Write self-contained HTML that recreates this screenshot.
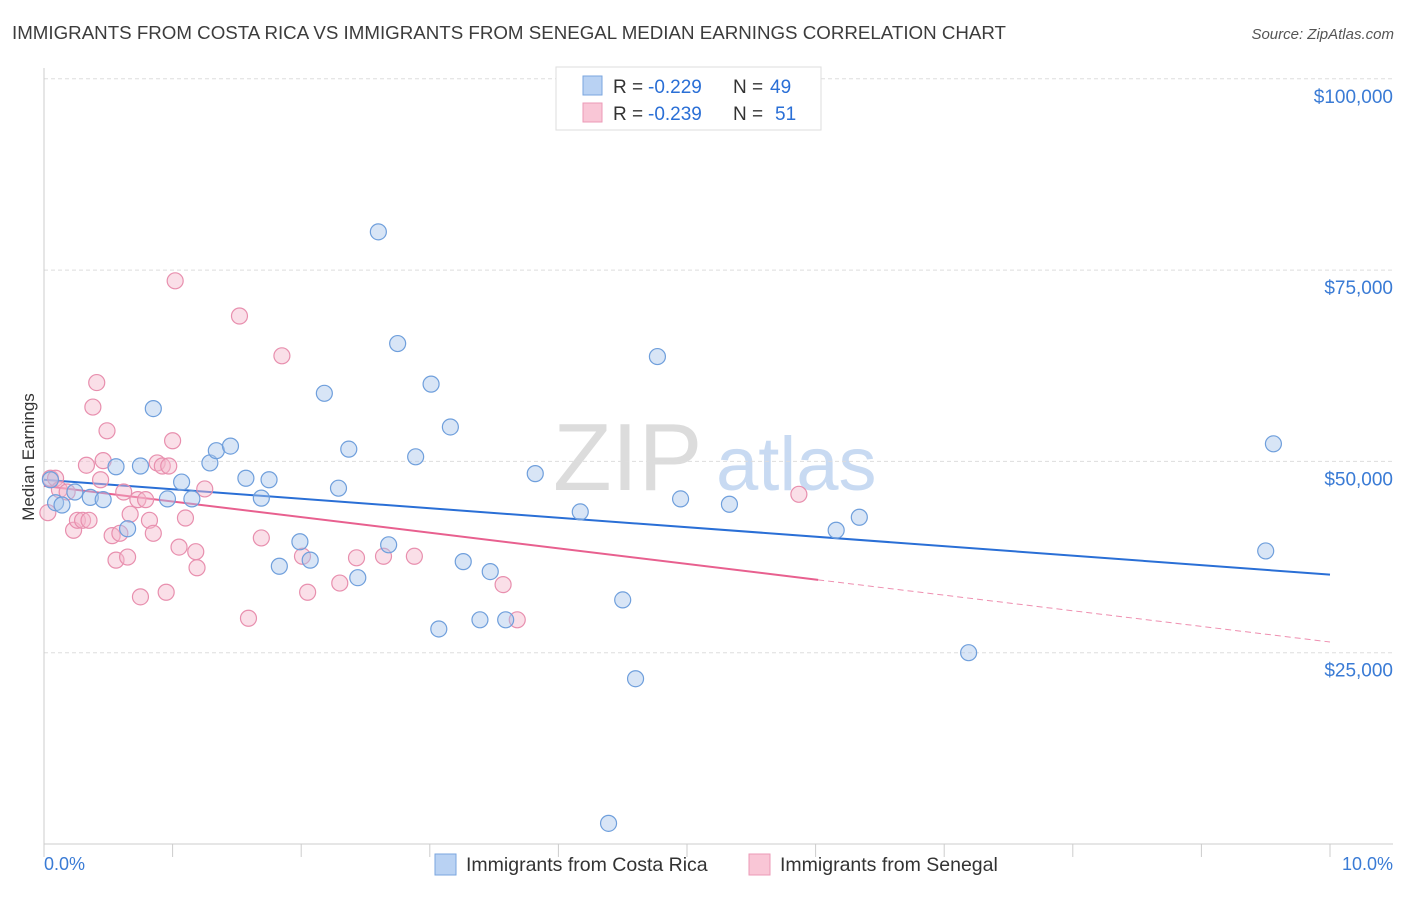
<!DOCTYPE html>
<html><head><meta charset="utf-8"><style>
body{margin:0;background:#fff;font-family:"Liberation Sans",sans-serif}
svg text{font-family:"Liberation Sans",sans-serif}
</style></head><body>
<svg id="chart" width="1406" height="892" xmlns="http://www.w3.org/2000/svg">
<text x="12" y="39" font-size="18.6" fill="#3c3c3c" textLength="994" lengthAdjust="spacingAndGlyphs">IMMIGRANTS FROM COSTA RICA VS IMMIGRANTS FROM SENEGAL MEDIAN EARNINGS CORRELATION CHART</text>
<text x="1394" y="39" font-size="15" fill="#555" text-anchor="end" font-style="italic">Source: ZipAtlas.com</text>
<text x="553" y="490" font-size="96" fill="#dcdcdc" font-family="Liberation Serif">ZIP</text>
<text x="716" y="490" font-size="76" fill="#c8daf2">atlas</text>
<text transform="translate(34,457) rotate(-90)" font-size="17" fill="#333" text-anchor="middle">Median Earnings</text>
<g id="grid"></g><g id="axes"></g><g id="lines"></g><g id="pts"></g>
<g>
<rect x="556" y="67" width="265" height="63" fill="#fff" stroke="#ddd"/>
<rect x="583" y="76" width="19" height="19" fill="#b9d2f3" stroke="#7aa6df"/>
<rect x="583" y="103" width="19" height="19" fill="#f9c6d6" stroke="#ec9ab7"/>
<text x="613" y="93" font-size="19" fill="#333">R =</text>
<text x="648" y="93" font-size="19" fill="#2a6fd6">-0.229</text>
<text x="733" y="93" font-size="19" fill="#333">N =</text>
<text x="770" y="93" font-size="19" fill="#2a6fd6">49</text>
<text x="613" y="120" font-size="19" fill="#333">R =</text>
<text x="648" y="120" font-size="19" fill="#2a6fd6">-0.239</text>
<text x="733" y="120" font-size="19" fill="#333">N =</text>
<text x="775" y="120" font-size="19" fill="#2a6fd6">51</text>
</g>
<g>
<rect x="435" y="854" width="21" height="21" fill="#b9d2f3" stroke="#7aa6df"/>
<text x="466" y="871" font-size="19.5" fill="#333">Immigrants from Costa Rica</text>
<rect x="749" y="854" width="21" height="21" fill="#f9c6d6" stroke="#ec9ab7"/>
<text x="780" y="871" font-size="19.5" fill="#333">Immigrants from Senegal</text>
</g>
<text x="44" y="870" font-size="18" fill="#3a7bd5">0.0%</text>
<text x="1393" y="870" font-size="18" fill="#3a7bd5" text-anchor="end">10.0%</text>
</svg>
<script>
const yTicks=[25000,50000,75000,100000];
const yTickLabels=["$25,000","$50,000","$75,000","$100,000"];
const blueX=[0.05,0.09,0.14,0.24,0.36,0.46,0.56,0.65,0.75,0.85,0.96,1.07,1.15,1.29,1.34,1.45,1.57,1.69,1.75,1.83,1.99,2.07,2.18,2.29,2.37,2.44,2.60,2.68,2.75,2.89,3.01,3.07,3.16,3.26,3.39,3.47,3.59,3.82,4.17,4.50,4.60,4.39,4.77,4.95,5.33,6.16,6.34,7.19,9.50,9.56];
const blueY=[47600,44600,44300,46000,45300,45000,49300,41200,49400,56900,45100,47300,45100,49800,51400,52000,47800,45200,47600,36300,39500,37100,58900,46500,51600,34800,80000,39100,65400,50600,60100,28100,54500,36900,29300,35600,29300,48400,43400,31900,21600,2700,63700,45100,44400,41000,42700,25000,38300,52300];
const pinkX=[0.03,0.05,0.09,0.12,0.18,0.23,0.26,0.30,0.35,0.33,0.41,0.38,0.44,0.46,0.49,0.53,0.56,0.59,0.62,0.65,0.67,0.73,0.75,0.79,0.82,0.85,0.88,0.92,0.95,0.97,1.00,1.02,1.05,1.10,1.18,1.19,1.25,1.52,1.59,1.69,1.85,2.01,2.05,2.30,2.43,2.64,2.88,3.57,3.68,5.87];
const pinkY=[43300,47800,47800,46300,46000,41000,42300,42300,42300,49500,60300,57100,47600,50100,54000,40300,37100,40600,46000,37500,43100,45000,32300,45000,42300,40600,49800,49400,32900,49400,52700,73600,38800,42600,38200,36100,46400,69000,29500,40000,63800,37600,32900,34100,37400,37600,37600,33900,29300,45700];
const blueTrend=[47600,35200];
const pinkTrend=[46800,26400];
const pinkSolidEnd=6.02;
const NS="http://www.w3.org/2000/svg";
const X=v=>44+v*128.6, Y=v=>844-v/25000*191.3;
function mk(t,a,p){const e=document.createElementNS(NS,t);for(const k in a)e.setAttribute(k,a[k]);p.appendChild(e);return e;}
const grid=document.getElementById('grid'),axes=document.getElementById('axes'),lines=document.getElementById('lines'),pts=document.getElementById('pts');
yTicks.forEach((t,i)=>{
 const l=mk('line',{x1:44,x2:1393,y1:Y(t),y2:Y(t),stroke:'#ddd','stroke-dasharray':'4,3'},grid);
 
 
 const tx=mk('text',{x:1393,y:Y(t)+24,'font-size':19,fill:'#3a7bd5','text-anchor':'end'},grid);
 tx.textContent=yTickLabels[i];
 
 
});
let a=mk('line',{x1:44,x2:44,y1:68,y2:844,stroke:'#ccc'},axes);


a=mk('line',{x1:44,x2:1393,y1:844,y2:844,stroke:'#ccc'},axes);


for(let i=0;i<=10;i++){const t=mk('line',{x1:X(i),x2:X(i),y1:844,y2:857,stroke:'#ccc'},axes);
 
 }
const lerp=(tr,x)=>tr[0]+(tr[1]-tr[0])*x/10;
let l=mk('line',{x1:X(0),y1:Y(lerp(blueTrend,0)),x2:X(10),y2:Y(lerp(blueTrend,10)),stroke:'#2a6fd6','stroke-width':2},lines);


l=mk('line',{x1:X(0),y1:Y(lerp(pinkTrend,0)),x2:X(pinkSolidEnd),y2:Y(lerp(pinkTrend,pinkSolidEnd)),stroke:'#e8608f','stroke-width':2},lines);


l=mk('line',{x1:X(pinkSolidEnd),y1:Y(lerp(pinkTrend,pinkSolidEnd)),x2:X(10),y2:Y(lerp(pinkTrend,10)),stroke:'#e8608f','stroke-width':1,'stroke-dasharray':'6,4',opacity:0.7},lines);


function pts_(xs,ys,fill,stroke,name){xs.forEach((x,i)=>{const c=mk('circle',{cx:X(x),cy:Y(ys[i]),r:8,fill:fill,'fill-opacity':0.45,stroke:stroke,'stroke-width':1.2},pts);
 
 });}
pts_(pinkX,pinkY,'#f4b8cc','#e88fae','senegal-point');
pts_(blueX,blueY,'#a9c6ec','#6f9fdc','costa-rica-point');
</script>
</body></html>
